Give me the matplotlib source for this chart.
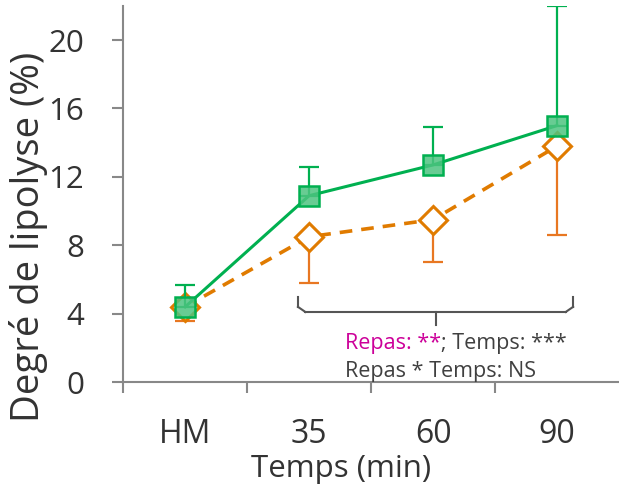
import matplotlib
matplotlib.use("Agg")
import matplotlib.pyplot as plt
import numpy as np

categories = ["HM", "35", "60", "90"]
green_vals = [4.4, 10.9, 12.7, 15.0]
green_err_up = [1.3, 1.7, 2.2, 7.0]
orange_vals = [4.4, 8.5, 9.5, 13.8]
orange_err_down = [0.8, 2.7, 2.5, 5.2]
yticks = [0, 4, 8, 12, 16, 20]

plt.rcParams['font.family'] = ['Open Sans', 'DejaVu Sans']

fig = plt.figure(figsize=(6.19, 4.88), dpi=100)
ax = fig.add_axes([0.199, 0.217, 0.801, 0.771])

x = np.arange(len(categories))
green = "#00B050"
orange = "#E07B00"
orange_err = "#E87722"

# orange series (behind)
ax.errorbar(x, orange_vals, yerr=[orange_err_down, [0]*4], fmt='none',
            ecolor=orange_err, elinewidth=1.6, capsize=7, capthick=1.6, zorder=2)
ax.plot(x, orange_vals, color=orange, lw=2.6, ls=(0, (3.5, 2.5)), zorder=3,
        marker='D', markersize=14, markerfacecolor='white',
        markeredgecolor=orange, markeredgewidth=2.2)

# green series
ax.errorbar(x, green_vals, yerr=[[0]*4, green_err_up], fmt='none',
            ecolor=green, elinewidth=1.6, capsize=7, capthick=1.6, zorder=4)
ax.plot(x, green_vals, color=green, lw=2.2, zorder=5, marker='s', markersize=15,
        markerfacecolor=(0.30, 0.77, 0.50, 0.85), markeredgecolor=green,
        markeredgewidth=1.8)

ax.set_xlim(-0.5, 3.5)
ax.set_ylim(0, 22)
ax.set_yticks(yticks)
ax.set_yticklabels([str(v) for v in yticks])
ax.set_xticks(x)
ax.set_xticklabels(categories)
ax.set_xticks([-0.5, 0.5, 1.5, 2.5], minor=True)

for s in ['top', 'right']:
    ax.spines[s].set_visible(False)
for s in ['left', 'bottom']:
    ax.spines[s].set_color('#888888')
    ax.spines[s].set_linewidth(1.5)

ax.tick_params(axis='y', direction='out', length=8, width=1.5, color='#888888',
               labelsize=22.5, labelcolor='#333333', pad=20)
ax.tick_params(axis='x', which='major', length=0, labelsize=23,
               labelcolor='#333333', pad=26)
ax.tick_params(axis='x', which='minor', direction='out', length=8, width=1.5,
               color='#888888')

ax.set_ylabel("Degré de lipolyse (%)", fontsize=27.5, color='#333333')
ax.yaxis.set_label_coords(-0.152, 0.385)
ax.set_xlabel("Temps (min)", fontsize=22.5, color='#333333')
ax.xaxis.set_label_coords(0.44, -0.19)

# bracket
bc = '#555555'
xl, xr, yb, ytop, xc = 0.91, 3.13, 4.1, 4.95, 2.02
r = 0.06
ax.plot([xl, xl], [ytop, yb + 0.3], color=bc, lw=1.5, zorder=6)
ax.plot([xr, xr], [ytop, yb + 0.3], color=bc, lw=1.5, zorder=6)
ax.plot([xl, xl + r], [yb + 0.3, yb], color=bc, lw=1.5, zorder=6)
ax.plot([xr, xr - r], [yb + 0.3, yb], color=bc, lw=1.5, zorder=6)
ax.plot([xl + r, xr - r], [yb, yb], color=bc, lw=1.5, zorder=6)
ax.plot([xc, xc], [yb, 3.35], color=bc, lw=1.5, zorder=6)

fs = 15.5
t1 = ax.text(1.29, 2.25, "Repas: **", color='#CC0099', fontsize=fs, va='center', ha='left')
fig.canvas.draw()
bb = t1.get_window_extent().transformed(ax.transData.inverted())
ax.text(bb.x1, 2.25, "; Temps: ***", color='#404040', fontsize=fs, va='center', ha='left')
ax.text(1.29, 0.6, "Repas * Temps: NS", color='#404040', fontsize=fs, va='center', ha='left')

fig.savefig("out.png", dpi=100)
